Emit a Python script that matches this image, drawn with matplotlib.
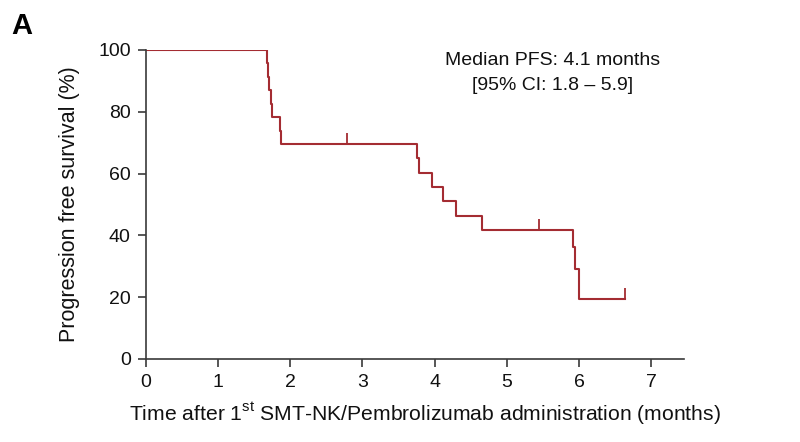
import matplotlib
matplotlib.use("Agg")
import matplotlib.pyplot as plt

# Kaplan-Meier step curve (months, % progression free)
step_times = [0.0, 1.68, 1.69, 1.70, 1.73, 1.75, 1.86, 1.87,
              3.76, 3.78, 3.97, 4.11, 4.29, 4.66, 5.92, 5.95, 6.00]
step_surv = [100.0, 95.7, 91.3, 87.0, 82.6, 78.3, 73.9, 69.6,
             64.9, 60.3, 55.7, 51.0, 46.4, 41.7, 36.3, 29.0, 19.5]
end_time = 6.64

# censored observations
censor_times = [2.78, 5.45, 6.64]
censor_surv = [69.6, 41.7, 19.5]

x_ticks = [0, 1, 2, 3, 4, 5, 6, 7]
y_ticks = [0, 20, 40, 60, 80, 100]

curve_color = "#a42c32"
axis_color = "#3a3a3a"

plt.rcParams["font.family"] = ["Liberation Sans", "DejaVu Sans"]

fig = plt.figure(figsize=(8.0, 4.42), dpi=100)
ax = fig.add_axes([0.1825, 0.188, 0.672, 0.699])

ax.step(step_times + [end_time], step_surv + [step_surv[-1]],
        where="post", color=curve_color, linewidth=1.5)
ax.errorbar(censor_times, [s + 1.8 for s in censor_surv], yerr=1.8,
            fmt="none", ecolor=curve_color, elinewidth=1.3, capsize=0)

ax.set_xlim(0, 7.45)
ax.set_ylim(0, 100)
ax.set_xticks(x_ticks)
ax.set_yticks(y_ticks)
ax.tick_params(axis="both", labelsize=14, length=6, width=1.2,
               color=axis_color, labelcolor="#111111", pad=5)

for side in ["top", "right"]:
    ax.spines[side].set_visible(False)
for side in ["left", "bottom"]:
    ax.spines[side].set_color(axis_color)
    ax.spines[side].set_linewidth(1.2)

ax.set_ylabel("Progression free survival (%)", fontsize=15.5, color="#111111")
ax.yaxis.set_label_coords(-0.122, 0.5)
ax.set_xlabel("Time after 1$^{\\mathregular{st}}$ SMT-NK/Pembrolizumab administration (months)",
              fontsize=15.2, color="#111111")
ax.xaxis.set_label_coords(0.518, -0.137)

ax.text(5.63, 99.2, "Median PFS: 4.1 months\n[95% CI: 1.8 \u2013 5.9]",
        ha="center", va="top", fontsize=14, color="#111111", linespacing=1.55)

fig.text(0.014, 0.972, "A", fontsize=21, fontweight="bold", va="top", ha="left")

fig.savefig("out.png", dpi=100, facecolor="white")
